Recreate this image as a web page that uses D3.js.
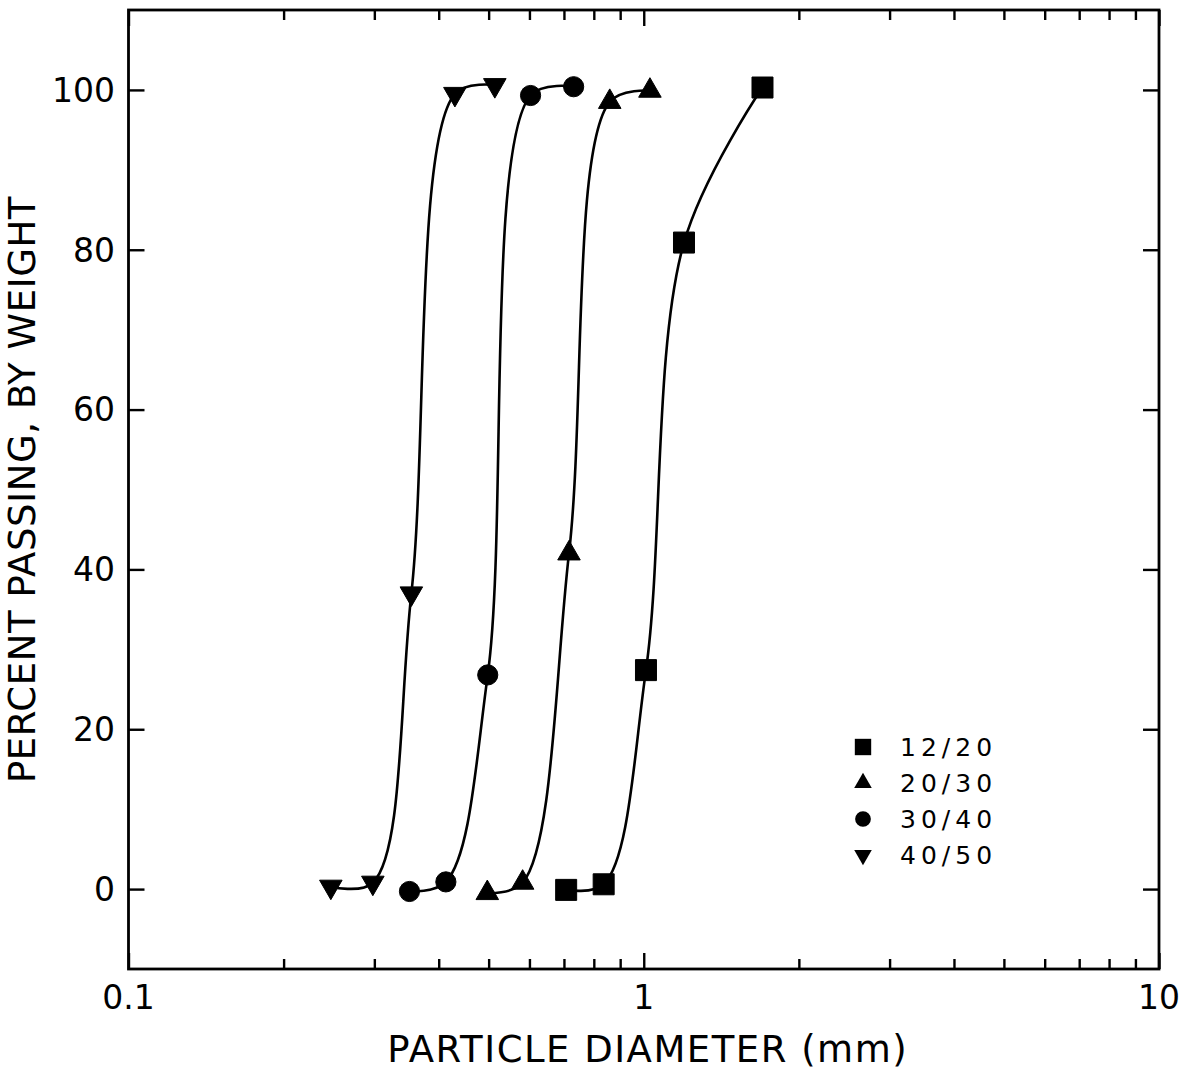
<!DOCTYPE html>
<html>
<head>
<meta charset="utf-8">
<script src="https://cdn.jsdelivr.net/npm/d3@7"></script>
<style>
  html, body { margin: 0; padding: 0; background: #fff; }
  svg { display: block; }
  text { font-family: "DejaVu Sans", sans-serif; fill: #000; }
</style>
</head>
<body>
<svg id="chart" width="1190" height="1070"></svg>
<script>
// Sieve fractions (mesh ranges)
const categories = ["12/20", "20/30", "30/40", "40/50"];

// Particle diameter (mm) and cumulative percent passing for each fraction
const diam_12_20 = [0.707, 0.836, 1.010, 1.197, 1.70];
const pass_12_20 = [-0.1, 0.6, 27.4, 80.9, 100.3];

const diam_20_30 = [0.497, 0.582, 0.716, 0.859, 1.028];
const pass_20_30 = [-0.5, 0.8, 42.0, 98.5, 99.9];

const diam_30_40 = [0.351, 0.413, 0.498, 0.603, 0.731];
const pass_30_40 = [-0.3, 0.9, 26.8, 99.3, 100.4];

const diam_40_50 = [0.247, 0.298, 0.354, 0.430, 0.514];
const pass_40_50 = [0.3, 0.8, 37.0, 99.5, 100.6];

// Axis ticks
const xMajorTicks = [0.1, 1, 10];
const xTickLabels = ["0.1", "1", "10"];
const xMinorTicks = [0.2, 0.3, 0.4, 0.5, 0.6, 0.7, 0.8, 0.9, 2, 3, 4, 5, 6, 7, 8, 9];
const yTicks = [0, 20, 40, 60, 80, 100];
const yTickLabels = ["0", "20", "40", "60", "80", "100"];

const xTitle = "PARTICLE DIAMETER (mm)";
const yTitle = "PERCENT PASSING, BY WEIGHT";

const series = [
  { name: categories[0], x: diam_12_20, y: pass_12_20, symbol: "square" },
  { name: categories[1], x: diam_20_30, y: pass_20_30, symbol: "triangleUp" },
  { name: categories[2], x: diam_30_40, y: pass_30_40, symbol: "circle" },
  { name: categories[3], x: diam_40_50, y: pass_40_50, symbol: "triangleDown" }
];

const svg = d3.select("#chart");
const plot = { left: 128.5, right: 1159, top: 10, bottom: 969 };

const x = d3.scaleLog().domain([0.1, 10]).range([plot.left, plot.right]);
const y = d3.scaleLinear().domain([-10, 110]).range([plot.bottom, plot.top]);

// Symbol generators
function symbolPath(kind, scale) {
  const s = scale || 1;
  if (kind === "square") return d3.symbol(d3.symbolSquare, 441 * s * s)();
  if (kind === "circle") return d3.symbol(d3.symbolCircle, 320 * s * s)();
  return d3.symbol(d3.symbolTriangle, 220 * s * s)();
}
function symbolRotation(kind) { return kind === "triangleDown" ? " rotate(180)" : ""; }

// Inward ticks on all four sides
const majorLen = 16, minorLen = 10;
function styleAxis(g) {
  g.select(".domain").remove();
  g.selectAll(".tick line").attr("stroke", "#000").attr("stroke-width", 2.4);
  g.selectAll(".tick text").remove();
}
svg.append("g").attr("transform", `translate(0,${plot.bottom})`)
  .call(d3.axisBottom(x).tickValues(xMajorTicks).tickSize(-majorLen)).call(styleAxis);
svg.append("g").attr("transform", `translate(0,${plot.bottom})`)
  .call(d3.axisBottom(x).tickValues(xMinorTicks).tickSize(-minorLen)).call(styleAxis);
svg.append("g").attr("transform", `translate(0,${plot.top})`)
  .call(d3.axisTop(x).tickValues(xMajorTicks).tickSize(-majorLen)).call(styleAxis);
svg.append("g").attr("transform", `translate(0,${plot.top})`)
  .call(d3.axisTop(x).tickValues(xMinorTicks).tickSize(-minorLen)).call(styleAxis);
svg.append("g").attr("transform", `translate(${plot.left},0)`)
  .call(d3.axisLeft(y).tickValues(yTicks).tickSize(-majorLen)).call(styleAxis);
svg.append("g").attr("transform", `translate(${plot.right},0)`)
  .call(d3.axisRight(y).tickValues(yTicks).tickSize(-majorLen)).call(styleAxis);

// Frame
svg.append("rect")
  .attr("x", plot.left).attr("y", plot.top)
  .attr("width", plot.right - plot.left).attr("height", plot.bottom - plot.top)
  .attr("fill", "none").attr("stroke", "#000").attr("stroke-width", 2.8);

// Tick labels
svg.append("g").selectAll("text").data(xMajorTicks).join("text")
  .attr("x", d => x(d)).attr("y", 1009)
  .attr("text-anchor", "middle").attr("font-size", 33)
  .text((d, i) => xTickLabels[i]);
svg.append("g").selectAll("text").data(yTicks).join("text")
  .attr("x", 115).attr("y", d => y(d)).attr("dy", "0.36em")
  .attr("text-anchor", "end").attr("font-size", 33)
  .text((d, i) => yTickLabels[i]);

// Axis titles
svg.append("text")
  .attr("x", (plot.left + plot.right) / 2 + 4).attr("y", 1062)
  .attr("text-anchor", "middle").attr("font-size", 37).attr("letter-spacing", 1.5)
  .text(xTitle);
svg.append("text")
  .attr("transform", `translate(35,${(plot.top + plot.bottom) / 2}) rotate(-90)`)
  .attr("text-anchor", "middle").attr("font-size", 37).attr("letter-spacing", 0.6)
  .text(yTitle);

// Smooth grading curves
const line = d3.line()
  .x(d => x(d[0])).y(d => y(d[1]))
  .curve(d3.curveCatmullRom.alpha(0.5));

const curves = svg.append("g");
series.forEach(s => {
  const pts = s.x.map((v, i) => [v, s.y[i]]);
  curves.append("path").attr("d", line(pts))
    .attr("fill", "none").attr("stroke", "#000").attr("stroke-width", 2.6)
    .attr("stroke-linejoin", "round").attr("stroke-linecap", "round");
});

// Data markers
const marks = svg.append("g");
series.forEach(s => {
  const pts = s.x.map((v, i) => [v, s.y[i]]);
  marks.selectAll(null).data(pts).join("path")
    .attr("d", symbolPath(s.symbol))
    .attr("transform", d => `translate(${x(d[0])},${y(d[1])})${symbolRotation(s.symbol)}`)
    .attr("fill", "#000").attr("stroke", "#000").attr("stroke-width", 1)
    .attr("stroke-linejoin", "round");
});

// Legend
const legend = svg.append("g");
const legendY = [747, 783, 819, 855];
series.forEach((s, i) => {
  legend.append("path")
    .attr("d", symbolPath(s.symbol, 0.78))
    .attr("transform", `translate(863,${legendY[i]})${symbolRotation(s.symbol)}`)
    .attr("fill", "#000");
  legend.append("text")
    .attr("x", 900).attr("y", legendY[i]).attr("dy", "0.36em")
    .attr("font-size", 25).attr("letter-spacing", 5)
    .text(s.name);
});
</script>
</body>
</html>
